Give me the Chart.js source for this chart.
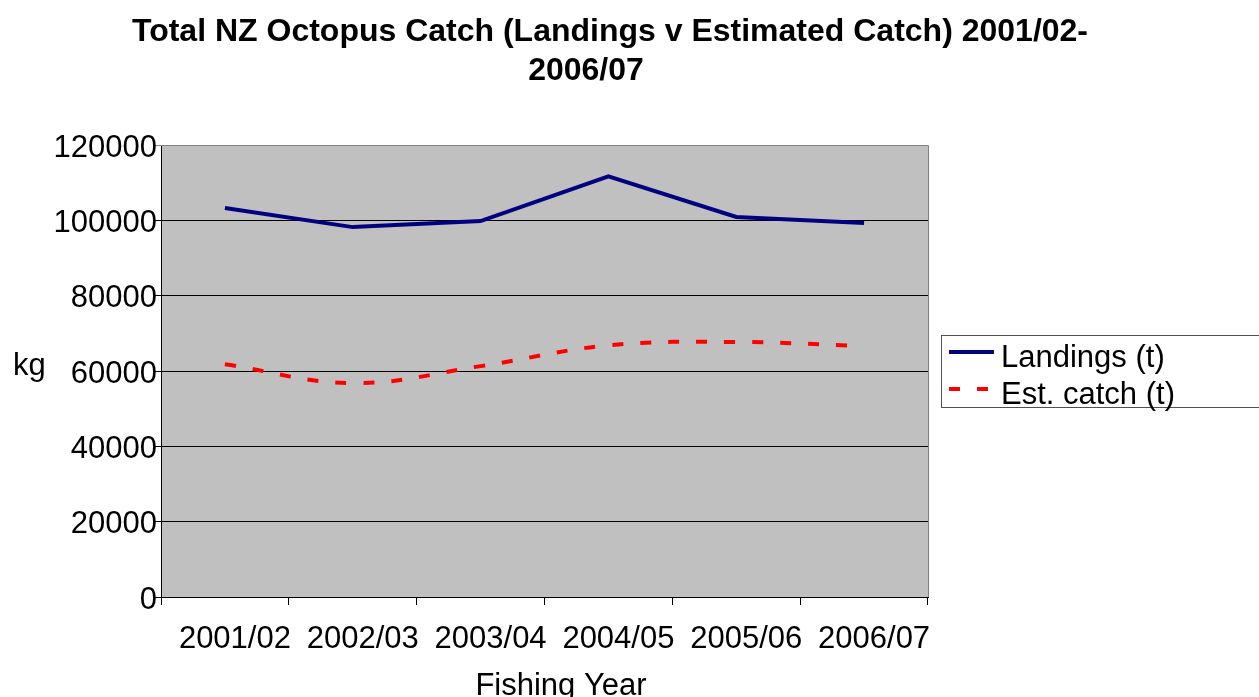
<!DOCTYPE html>
<html>
<head>
<meta charset="utf-8">
<script src="https://cdn.jsdelivr.net/npm/chart.js@4/dist/chart.umd.min.js"></script>
<style>
  html, body { margin: 0; padding: 0; background: #fff; }
  #wrap { width: 1259px; height: 697px; position: relative; }
</style>
</head>
<body>
<div id="wrap"><canvas id="myChart" width="1259" height="697"></canvas></div>
<script>
// data
const years = ['2001/02', '2002/03', '2003/04', '2004/05', '2005/06', '2006/07'];
const landings = [103300, 98200, 99800, 111700, 100900, 99300];
const estCatch = [61800, 56800, 61300, 66800, 67700, 66600];
const yTicks = [0, 20000, 40000, 60000, 80000, 100000, 120000];

const titleLines = ['Total NZ Octopus Catch (Landings v Estimated Catch) 2001/02-', '2006/07'];
const xTitle = 'Fishing Year';
const yTitle = 'kg';

const FONT = '"Liberation Sans", Arial, sans-serif';

// background, frame, titles and legend box
const decor = {
  id: 'decor',
  beforeDraw(chart) {
    const { ctx, chartArea: a } = chart;
    ctx.save();
    ctx.fillStyle = '#c0c0c0';
    ctx.fillRect(a.left, a.top, a.right - a.left, a.bottom - a.top);
    ctx.restore();
  },
  afterDraw(chart) {
    const { ctx, chartArea: a } = chart;
    ctx.save();
    // right + top frame
    ctx.strokeStyle = '#808080';
    ctx.lineWidth = 1;
    ctx.beginPath();
    ctx.moveTo(a.left, a.top + 0.5);
    ctx.lineTo(a.right + 0.5, a.top + 0.5);
    ctx.lineTo(a.right + 0.5, a.bottom);
    ctx.stroke();

    // title
    ctx.fillStyle = '#000';
    ctx.font = 'bold 32px ' + FONT;
    ctx.textAlign = 'center';
    ctx.textBaseline = 'alphabetic';
    ctx.fillText(titleLines[0], 610, 41);
    ctx.fillText(titleLines[1], 586, 80);

    // axis titles
    ctx.font = '31px ' + FONT;
    ctx.fillText(xTitle, 561, 695);
    ctx.textAlign = 'left';
    ctx.fillText(yTitle, 13, 375);

    // legend
    ctx.strokeStyle = '#505050';
    ctx.lineWidth = 1;
    ctx.strokeRect(941.5, 335.5, 330, 72);
    const rows = [352, 389];
    chart.data.datasets.forEach((ds, i) => {
      const y = rows[i];
      ctx.strokeStyle = ds.borderColor;
      ctx.lineWidth = ds.borderWidth;
      ctx.setLineDash(ds.borderDash || []);
      ctx.beginPath();
      ctx.moveTo(949, y);
      ctx.lineTo(994, y);
      ctx.stroke();
      ctx.setLineDash([]);
      ctx.fillStyle = '#000';
      ctx.font = '31px ' + FONT;
      ctx.textAlign = 'left';
      ctx.fillText(ds.label, 1001, y + 15);
    });
    ctx.restore();
  }
};

const ctx = document.getElementById('myChart');

// eslint-disable-next-line no-unused-vars
const myChart = new Chart(ctx, {
  type: 'line',
  data: {
    labels: years,
    datasets: [{
      label: 'Landings (t)',
      data: landings,
      borderColor: '#000080',
      borderWidth: 4,
      tension: 0,
      pointRadius: 0,
      fill: false
    }, {
      label: 'Est. catch (t)',
      data: estCatch,
      borderColor: '#ff0000',
      borderWidth: 4,
      borderDash: [11, 17],
      tension: 0.4,
      pointRadius: 0,
      fill: false
    }]
  },
  options: {
    responsive: false,
    animation: false,
    layout: { padding: { left: 0, top: 145, right: 331, bottom: 0 } },
    plugins: {
      legend: { display: false },
      title: { display: false },
      tooltip: { enabled: false }
    },
    scales: {
      x: {
        offset: true,
        afterFit(scale) { scale.height = 100; },
        grid: {
          offset: true,
          drawOnChartArea: false,
          drawTicks: true,
          tickLength: 8,
          color: '#000'
        },
        border: { color: '#000', width: 1 },
        ticks: {
          color: '#000',
          font: { family: FONT, size: 31 },
          padding: 16,
          labelOffset: 10,
          maxRotation: 0,
          autoSkip: false
        }
      },
      y: {
        min: 0,
        max: 120000,
        afterFit(scale) { scale.width = 161; },
        afterBuildTicks(scale) {
          scale.ticks = yTicks.map(v => ({ value: v }));
        },
        grid: {
          color: c => (c.tick && c.tick.value === 120000 ? '#808080' : '#000'),
          lineWidth: 1,
          drawTicks: true,
          tickLength: 6
        },
        border: { color: '#000', width: 1 },
        ticks: {
          color: '#000',
          font: { family: FONT, size: 31 },
          padding: -2,
          labelOffset: 3,
          callback: v => String(v)
        }
      }
    }
  },
  plugins: [decor]
});
</script>
</body>
</html>
